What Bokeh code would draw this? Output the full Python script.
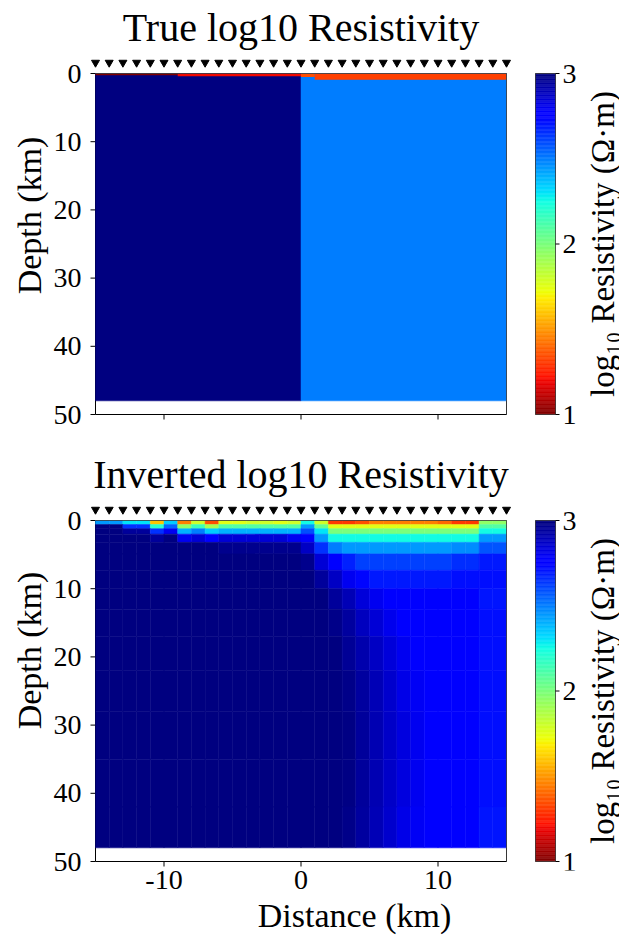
import numpy as np
from bokeh.plotting import figure
from bokeh.models import Range1d, FixedTicker, LinearColorMapper, Label, ColumnDataSource
from bokeh.layouts import column
from bokeh.transform import transform
from bokeh.embed import file_html
from bokeh.resources import INLINE

# ---------------- data ----------------
stations_km = [-15, -14, -13, -12, -11, -10, -9, -8, -7, -6, -5, -4, -3, -2, -1, 0,
               1, 2, 3, 4, 5, 6, 7, 8, 9, 10, 11, 12, 13, 14, 15]
station_depth_km = -1.6

# true model: two basement blocks + thin conductive cover
true_base_left = [-15, 0]
true_base_right = [0, 15]
true_base_logrho = [3.0, 2.5]
true_base_bottom = 48

true_sed_left = [-15, -9, 0, 1]
true_sed_right = [-9, 0, 1, 15]
true_sed_thick = [0.25, 0.4, 0.5, 0.9]
true_sed_logrho = [1.0, 1.2, 1.35, 1.32]

# inverted model (cells): x edges (km), depth edges (km), log10 rho per row
inv_x_edges = [-15, -14, -13, -12, -11, -10, -9, -8, -7, -6, -5, -4, -3, -2, -1, 0,
               1, 2, 3, 4, 5, 6, 7, 8, 9, 10, 11, 12, 13, 14, 15]
inv_z_edges = [0, 0.6, 1.2, 2.0, 3.2, 4.9, 7.3, 10, 13, 17, 22, 28, 35, 42, 48]
inv_logrho = [
    [2.45, 2.45, 2.3, 2.3, 1.6, 2.35, 1.45, 1.8, 1.35, 1.75, 1.75, 1.8, 1.8, 1.75, 1.8,
     2.25, 1.8, 1.3, 1.3, 1.35, 1.45, 1.45, 1.45, 1.45, 1.45, 1.4, 1.3, 1.3, 1.95, 1.95],
    [3.0, 3.0, 2.65, 2.65, 2.2, 2.55, 1.95, 2.15, 1.9, 2.1, 2.1, 2.1, 2.1, 2.1, 2.1,
     2.45, 2.05, 1.75, 1.75, 1.75, 1.75, 1.75, 1.75, 1.75, 1.75, 1.75, 1.75, 1.75, 2.1, 2.1],
    [3.0, 3.0, 2.95, 2.95, 2.65, 2.8, 2.4, 2.5, 2.35, 2.4, 2.4, 2.4, 2.4, 2.4, 2.4,
     2.6, 2.3, 2.0, 2.0, 2.0, 2.0, 2.0, 2.0, 2.0, 2.0, 2.0, 2.0, 2.0, 2.25, 2.25],
    [3.0, 3.0, 3.0, 3.0, 2.95, 3.0, 2.8, 2.85, 2.75, 2.85, 2.85, 2.85, 2.85, 2.85, 2.8,
     2.75, 2.45, 2.25, 2.25, 2.25, 2.25, 2.25, 2.25, 2.25, 2.25, 2.25, 2.25, 2.25, 2.45, 2.45],
    [3.0, 3.0, 3.0, 3.0, 3.0, 3.0, 3.0, 3.0, 3.0, 2.97, 2.97, 2.97, 2.97, 2.97, 2.97,
     2.88, 2.65, 2.5, 2.45, 2.45, 2.45, 2.45, 2.45, 2.45, 2.45, 2.45, 2.47, 2.47, 2.58, 2.58],
    [3.0, 3.0, 3.0, 3.0, 3.0, 3.0, 3.0, 3.0, 3.0, 3.0, 3.0, 3.0, 3.0, 3.0, 3.0,
     2.97, 2.85, 2.75, 2.68, 2.62, 2.62, 2.62, 2.62, 2.62, 2.62, 2.62, 2.66, 2.66, 2.7, 2.7],
    [3.0, 3.0, 3.0, 3.0, 3.0, 3.0, 3.0, 3.0, 3.0, 3.0, 3.0, 3.0, 3.0, 3.0, 3.0,
     3.0, 2.95, 2.88, 2.8, 2.74, 2.7, 2.7, 2.7, 2.7, 2.7, 2.7, 2.72, 2.72, 2.72, 2.72],
    [3.0, 3.0, 3.0, 3.0, 3.0, 3.0, 3.0, 3.0, 3.0, 3.0, 3.0, 3.0, 3.0, 3.0, 3.0,
     3.0, 3.0, 2.95, 2.9, 2.84, 2.8, 2.77, 2.75, 2.75, 2.75, 2.75, 2.75, 2.75, 2.71, 2.71],
    [3.0, 3.0, 3.0, 3.0, 3.0, 3.0, 3.0, 3.0, 3.0, 3.0, 3.0, 3.0, 3.0, 3.0, 3.0,
     3.0, 3.0, 2.98, 2.94, 2.89, 2.85, 2.81, 2.78, 2.76, 2.76, 2.76, 2.76, 2.76, 2.72, 2.72],
    [3.0, 3.0, 3.0, 3.0, 3.0, 3.0, 3.0, 3.0, 3.0, 3.0, 3.0, 3.0, 3.0, 3.0, 3.0,
     3.0, 3.0, 3.0, 2.96, 2.92, 2.88, 2.84, 2.8, 2.77, 2.76, 2.76, 2.76, 2.76, 2.72, 2.72],
    [3.0, 3.0, 3.0, 3.0, 3.0, 3.0, 3.0, 3.0, 3.0, 3.0, 3.0, 3.0, 3.0, 3.0, 3.0,
     3.0, 3.0, 3.0, 2.98, 2.94, 2.9, 2.86, 2.82, 2.79, 2.76, 2.76, 2.76, 2.76, 2.72, 2.72],
    [3.0, 3.0, 3.0, 3.0, 3.0, 3.0, 3.0, 3.0, 3.0, 3.0, 3.0, 3.0, 3.0, 3.0, 3.0,
     3.0, 3.0, 3.0, 2.99, 2.95, 2.91, 2.87, 2.83, 2.8, 2.77, 2.76, 2.76, 2.76, 2.72, 2.72],
    [3.0, 3.0, 3.0, 3.0, 3.0, 3.0, 3.0, 3.0, 3.0, 3.0, 3.0, 3.0, 3.0, 3.0, 3.0,
     3.0, 3.0, 3.0, 2.99, 2.95, 2.91, 2.87, 2.83, 2.8, 2.77, 2.77, 2.77, 2.77, 2.72, 2.72],
    [3.0, 3.0, 3.0, 3.0, 3.0, 3.0, 3.0, 3.0, 3.0, 3.0, 3.0, 3.0, 3.0, 3.0, 3.0,
     3.0, 3.0, 3.0, 2.98, 2.94, 2.9, 2.86, 2.82, 2.79, 2.76, 2.76, 2.76, 2.76, 2.71, 2.71],
]

x_ticks = [-10, 0, 10]
x_tick_labels = {-10: "-10", 0: "0", 10: "10"}
depth_ticks = [0, 10, 20, 30, 40, 50]
cbar_ticks = [1, 2, 3]
cbar_tick_labels = ["1", "2", "3"]
cbar_low, cbar_high = 1, 3

titles = ["True log10 Resistivity", "Inverted log10 Resistivity"]
cbar_title = "log\u2081\u2080 Resistivity (\u03a9\u00b7m)"

# ---------------- style / geometry ----------------
FONT = "Liberation Serif"
SX = 411 / 30.0          # px per km horizontally
SY = 341 / 50.0          # px per km vertically
BOX_LEFT_PX = 95         # page x of x=-15
FRAME_LEFT_PX = 89
FIG_W = 619
X0 = -15 - (BOX_LEFT_PX - FRAME_LEFT_PX) / SX
X1 = X0 + (FIG_W - FRAME_LEFT_PX) / SX
TICK = 5


def px_to_x(px):
    return -15 + (px - BOX_LEFT_PX) / SX


def jet(n=256):
    t = np.linspace(0, 1, n)
    r = np.interp(t, [0, 0.35, 0.66, 0.89, 1], [0, 0, 1, 1, 0.5])
    g = np.interp(t, [0, 0.125, 0.375, 0.64, 0.91, 1], [0, 0, 1, 1, 0, 0])
    b = np.interp(t, [0, 0.11, 0.34, 0.65, 1], [0.5, 1, 1, 0, 0])
    return ["#%02x%02x%02x" % (int(round(255 * a)), int(round(255 * c)), int(round(255 * d)))
            for a, c, d in zip(r, g, b)]


palette = jet()[::-1]
mapper = LinearColorMapper(palette=palette, low=cbar_low, high=cbar_high)


def make_panel(title, frame_h, box_top_px, box_bottom_px, show_xaxis):
    y_top = -box_top_px / SY
    y_bot = 50 + (frame_h - box_bottom_px) / SY
    p = figure(frame_width=FIG_W - FRAME_LEFT_PX, frame_height=frame_h,
               x_range=Range1d(X0, X1), y_range=Range1d(y_bot, y_top),
               output_backend="svg", toolbar_location=None, title=None,
               x_axis_location=("below" if show_xaxis else None),
               min_border_left=FRAME_LEFT_PX, min_border_right=0, min_border_top=0,
               min_border_bottom=0)
    p.outline_line_color = None
    p.grid.visible = False
    p.background_fill_color = "white"

    axes = [p.yaxis[0]] + ([p.xaxis[0]] if show_xaxis else [])
    for ax in axes:
        ax.major_tick_in = 0
        ax.major_tick_out = 0
        ax.major_tick_line_color = None
        ax.minor_tick_line_color = None
        ax.axis_line_color = None
        ax.major_label_text_font = FONT
        ax.major_label_text_color = "black"
        ax.axis_label_text_font = FONT
        ax.axis_label_text_font_style = "normal"
        ax.axis_label_text_color = "black"

    p.yaxis.ticker = FixedTicker(ticks=depth_ticks)
    p.yaxis.major_label_text_font_size = "28px"
    p.yaxis.major_label_standoff = 8
    p.yaxis.axis_label = "Depth (km)"
    p.yaxis.axis_label_text_font_size = "34px"
    p.yaxis.axis_label_standoff = 3
    if show_xaxis:
        p.xaxis.ticker = FixedTicker(ticks=x_ticks)
        p.xaxis.major_label_overrides = x_tick_labels
        p.xaxis.major_label_text_font_size = "28px"
        p.xaxis.major_label_standoff = 0
        p.xaxis.axis_label = "Distance (km)"
        p.xaxis.axis_label_text_font_size = "34px"
        p.xaxis.axis_label_standoff = 5

    # spines (box) and outward ticks at the axis tick positions
    tx = TICK / SX
    ty = TICK / SY
    p.segment(x0=[-15, -15, -15, 15], x1=[15, 15, -15, 15],
              y0=[0, 50, 0, 0], y1=[0, 50, 50, 50], line_color="black", line_width=1)
    p.segment(x0=x_ticks, x1=x_ticks, y0=[50] * len(x_ticks), y1=[50 + ty] * len(x_ticks),
              line_color="black", line_width=1)
    p.segment(x0=[-15] * len(depth_ticks), x1=[-15 - tx] * len(depth_ticks),
              y0=depth_ticks, y1=depth_ticks, line_color="black", line_width=1)

    # title
    p.add_layout(Label(x=0, y=-6.75, text=title, text_font=FONT, text_font_size="40px",
                       text_align="center", text_baseline="alphabetic", text_color="black"))

    # colorbar drawn through the same mapper
    cb_x0 = px_to_x(535)
    cb_x1 = px_to_x(555)
    edges = np.linspace(cbar_low, cbar_high, 257)

    def v2d(v):
        return (cbar_high - np.asarray(v, dtype=float)) / (cbar_high - cbar_low) * 50.0

    cb_src = ColumnDataSource(dict(
        left=[cb_x0] * 256, right=[cb_x1] * 256,
        top=list(v2d(edges[1:])), bottom=list(v2d(edges[:-1])),
        val=list(0.5 * (edges[1:] + edges[:-1]))))
    p.quad(left="left", right="right", top="top", bottom="bottom", source=cb_src,
           fill_color=transform("val", mapper), line_color=transform("val", mapper),
           line_width=0.5)
    p.quad(left=[cb_x0], right=[cb_x1], top=[0], bottom=[50], fill_color=None,
           line_color="#333333", line_width=0.8)
    tick_d = list(v2d(cbar_ticks))
    p.segment(x0=[cb_x1] * 3, x1=[cb_x1 + 4 / SX] * 3, y0=tick_d, y1=tick_d,
              line_color="black", line_width=1)
    for lab, d in zip(cbar_tick_labels, tick_d):
        p.add_layout(Label(x=px_to_x(562), y=d, text=lab, text_font=FONT,
                           text_font_size="28px", text_align="left",
                           text_baseline="middle", text_color="black"))
    p.add_layout(Label(x=px_to_x(602), y=25, text=cbar_title, angle=np.pi / 2,
                       text_font=FONT, text_font_size="33px", text_align="center",
                       text_baseline="middle", text_color="black"))
    return p


# ---------------- top panel: true model ----------------
p1 = make_panel(titles[0], 430, 73, 414, False)
base_src = ColumnDataSource(dict(left=true_base_left, right=true_base_right,
                                 top=[0, 0], bottom=[true_base_bottom] * 2,
                                 val=true_base_logrho))
p1.quad(left="left", right="right", top="top", bottom="bottom", source=base_src,
        fill_color=transform("val", mapper), line_color=transform("val", mapper), line_width=0.5)
sed_src = ColumnDataSource(dict(left=true_sed_left, right=true_sed_right,
                                top=[0] * 4, bottom=true_sed_thick, val=true_sed_logrho))
p1.quad(left="left", right="right", top="top", bottom="bottom", source=sed_src,
        fill_color=transform("val", mapper), line_color=None)

# ---------------- bottom panel: inverted model ----------------
p2 = make_panel(titles[1], 440, 90, 431, True)
L, R, T, B, V = [], [], [], [], []
for i in range(len(inv_z_edges) - 1):
    for j in range(len(inv_x_edges) - 1):
        L.append(inv_x_edges[j]); R.append(inv_x_edges[j + 1])
        T.append(inv_z_edges[i]); B.append(inv_z_edges[i + 1])
        V.append(inv_logrho[i][j])
inv_src = ColumnDataSource(dict(left=L, right=R, top=T, bottom=B, val=V))
p2.quad(left="left", right="right", top="top", bottom="bottom", source=inv_src,
        fill_color=transform("val", mapper), line_color=transform("val", mapper), line_width=0.5)

for p in (p1, p2):
    # redraw top spine over the data, then the stations
    p.segment(x0=[-15, 15], x1=[15, 15], y0=[0, 0], y1=[0, 50], line_color="#444444", line_width=0.8)
    p.scatter(x=stations_km, y=[station_depth_km] * len(stations_km), marker="inverted_triangle",
              size=8, fill_color="black", line_color="black")

layout = column(p1, p2, spacing=0)
open("out.html", "w").write(file_html(layout, INLINE))
